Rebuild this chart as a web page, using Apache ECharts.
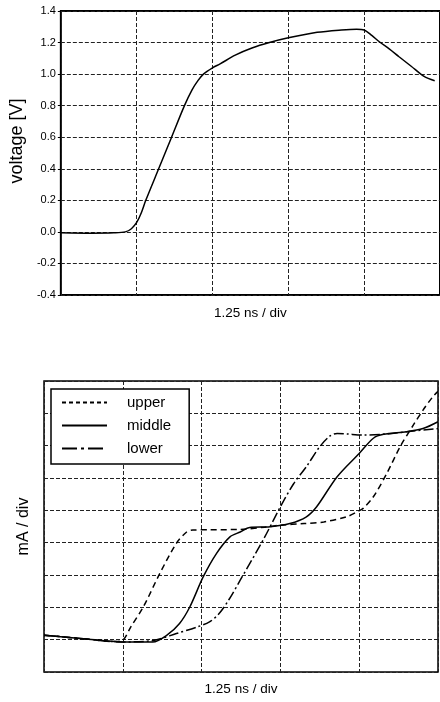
<!DOCTYPE html>
<html>
<head>
<meta charset="utf-8">
<script src="https://cdn.jsdelivr.net/npm/echarts@6/dist/echarts.min.js"></script>
<style>
  html, body { margin: 0; padding: 0; background: #fff; }
  #main { width: 440px; height: 702px; }
</style>
</head>
<body>
<div id="main"></div>
<script>
// x in divisions (1 div = 1.25 ns)
// top: voltage trace
const vX = [0, 0.4, 0.7, 0.85, 0.93, 1.0, 1.06, 1.12, 1.29, 1.46, 1.63, 1.73, 1.81, 1.88, 2.0, 2.1, 2.3, 2.52, 2.75, 3.0, 3.38, 3.7, 3.9, 4.0, 4.1, 4.2, 4.33, 4.46, 4.62, 4.79, 4.93];
const vY = [-0.005, -0.008, -0.006, 0.0, 0.02, 0.06, 0.12, 0.2, 0.4, 0.6, 0.8, 0.9, 0.96, 1.0, 1.04, 1.065, 1.12, 1.165, 1.2, 1.23, 1.265, 1.28, 1.285, 1.28, 1.245, 1.205, 1.16, 1.11, 1.05, 0.985, 0.958];
const vTicks = [-0.4, -0.2, 0.0, 0.2, 0.4, 0.6, 0.8, 1.0, 1.2, 1.4];

// bottom: currents, y in divisions
const upperX = [0, 0.5, 0.9, 1.0, 1.1, 1.26, 1.47, 1.68, 1.81, 1.89, 2.1, 2.49, 2.8, 3.0, 3.3, 3.55, 3.84, 3.97, 4.05, 4.18, 4.35, 4.52, 4.69, 4.81, 4.93, 5.0];
const upperY = [1.14, 1.03, 0.94, 0.98, 1.39, 2.01, 3.05, 3.98, 4.33, 4.39, 4.40, 4.41, 4.48, 4.54, 4.59, 4.64, 4.80, 4.95, 5.06, 5.42, 6.14, 6.97, 7.65, 8.1, 8.5, 8.68];
const middleX = [0, 0.5, 1.0, 1.38, 1.56, 1.72, 1.85, 2.02, 2.19, 2.36, 2.49, 2.61, 2.87, 3.12, 3.33, 3.46, 3.72, 4.0, 4.18, 4.31, 4.6, 4.81, 5.0];
const middleY = [1.14, 1.03, 0.93, 0.93, 1.14, 1.5, 2.01, 2.94, 3.67, 4.18, 4.33, 4.47, 4.49, 4.59, 4.80, 5.11, 6.04, 6.76, 7.23, 7.35, 7.43, 7.53, 7.74];
const lowerX = [0, 0.5, 1.0, 1.38, 1.68, 1.94, 2.1, 2.22, 2.35, 2.49, 2.78, 3.0, 3.17, 3.33, 3.5, 3.63, 3.72, 3.85, 4.05, 4.34, 4.6, 5.0];
const lowerY = [1.14, 1.03, 0.93, 0.97, 1.19, 1.39, 1.55, 1.8, 2.25, 2.84, 4.08, 5.11, 5.83, 6.35, 6.97, 7.30, 7.38, 7.36, 7.33, 7.36, 7.43, 7.53];

const names = ["upper", "middle", "lower"];

function zip(xs, ys) {
  return xs.map((x, i) => [x, ys[i]]);
}

const font = "Liberation Sans, Arial, sans-serif";
// 网格虚线
const gridLine = { show: true, lineStyle: { color: "#222", width: 1, type: [4, 2] } };

const chart = echarts.init(document.getElementById("main"));
const option = {
  backgroundColor: "#fff",
  animation: false,
  color: ["#000"],
  textStyle: { fontFamily: font, color: "#000" },
  legend: {
    data: [
      { name: "upper", lineStyle: { type: [4, 3] } },
      { name: "middle" },
      { name: "lower", lineStyle: { type: [15, 4, 3, 4] } },
    ],
    orient: "vertical",
    left: 51,
    top: 389,
    padding: [6, 18, 8, 10],
    itemWidth: 45,
    itemHeight: 14,
    itemGap: 8,
    itemStyle: { opacity: 0 },
    borderColor: "#000",
    borderWidth: 1.5,
    backgroundColor: "#fff",
    textStyle: { fontSize: 15, color: "#000", fontFamily: font, padding: [0, 0, 0, 15] },
  },
  grid: [
    { left: 57, top: 11, right: -6, height: 284, show: true, borderColor: "#000", borderWidth: 2 },
    { left: 44, top: 381, right: 2, height: 291, show: true, borderColor: "#000", borderWidth: 1.5 },
  ],
  xAxis: [
    {
      gridIndex: 0, type: "value", min: 0, max: 5, interval: 1,
      name: "1.25 ns / div", nameLocation: "middle", nameGap: 11,
      nameTextStyle: { fontSize: 13.5, color: "#000" },
      axisLine: { show: false }, axisTick: { show: false }, axisLabel: { show: false },
      splitLine: gridLine,
    },
    {
      gridIndex: 1, type: "value", min: 0, max: 5, interval: 1,
      name: "1.25 ns / div", nameLocation: "middle", nameGap: 10,
      nameTextStyle: { fontSize: 13.5, color: "#000" },
      axisLine: { show: false }, axisTick: { show: false }, axisLabel: { show: false },
      splitLine: gridLine,
    },
  ],
  yAxis: [
    {
      gridIndex: 0, type: "value", min: vTicks[0], max: vTicks[vTicks.length - 1], interval: 0.2,
      name: "voltage [V]", nameLocation: "middle", nameGap: 32,
      nameTextStyle: { fontSize: 18, color: "#000", padding: [0, 0, 0, 24] },
      axisLine: { show: false },
      axisTick: { show: true, length: 3, lineStyle: { color: "#000" } },
      axisLabel: { fontSize: 11, color: "#000", margin: 5, formatter: (v) => v.toFixed(1) },
      splitLine: gridLine,
    },
    {
      gridIndex: 1, type: "value", min: 0, max: 9, interval: 1,
      name: "mA / div", nameLocation: "middle", nameGap: 12,
      nameTextStyle: { fontSize: 16, color: "#000" },
      axisLine: { show: false }, axisTick: { show: false }, axisLabel: { show: false },
      splitLine: gridLine,
    },
  ],
  series: [
    {
      type: "line", xAxisIndex: 0, yAxisIndex: 0,
      data: zip(vX, vY), smooth: 0.3, symbol: "none",
      lineStyle: { color: "#000", width: 1.5 },
    },
    {
      name: names[0], type: "line", xAxisIndex: 1, yAxisIndex: 1,
      data: zip(upperX, upperY), smooth: 0.3, symbol: "none",
      itemStyle: { color: "#000" },
      lineStyle: { color: "#000", width: 1.5, type: [6, 4] },
    },
    {
      name: names[1], type: "line", xAxisIndex: 1, yAxisIndex: 1,
      data: zip(middleX, middleY), smooth: 0.3, symbol: "none",
      itemStyle: { color: "#000" },
      lineStyle: { color: "#000", width: 1.5 },
    },
    {
      name: names[2], type: "line", xAxisIndex: 1, yAxisIndex: 1,
      data: zip(lowerX, lowerY), smooth: 0.3, symbol: "none",
      itemStyle: { color: "#000" },
      lineStyle: { color: "#000", width: 1.5, type: [10, 3, 2, 3] },
    },
  ],
};
chart.setOption(option);
</script>
</body>
</html>
